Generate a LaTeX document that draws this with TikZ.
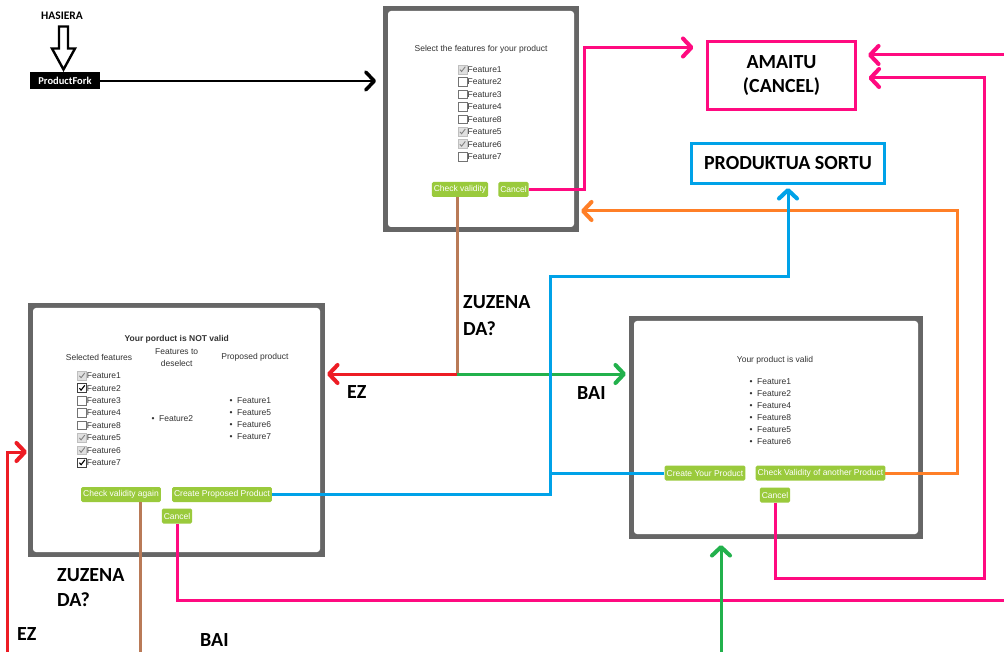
\documentclass[tikz,border=0pt]{standalone}
\usepackage{fontspec}
\setmainfont{Liberation Sans}
\newfontfamily\lblfont{Carlito}
\usetikzlibrary{arrows.meta,calc}

\definecolor{pinkl}{HTML}{FF0A80}
\definecolor{bluel}{HTML}{00A2E8}
\definecolor{orangel}{HTML}{FF7F27}
\definecolor{greenl}{HTML}{22B14C}
\definecolor{redl}{HTML}{ED1C24}
\definecolor{brownl}{HTML}{B97A57}
\definecolor{framecol}{HTML}{666666}
\definecolor{btncol}{HTML}{9ACA3C}
\definecolor{txt}{HTML}{333333}

\begin{document}
\begin{tikzpicture}[x=1pt,y=-1pt,
  tip/.style={-{Straight Barb[length=8.5pt,width=18pt,line width=0pt 1.35,round]}},
  wire/.style={line width=3pt},
  pinkw/.style={wire, draw=pinkl},
  bluew/.style={wire, draw=bluel},
  orangew/.style={wire, draw=orangel},
  greenw/.style={wire, draw=greenl},
  redw/.style={wire, draw=redl},
  brownw/.style={wire, draw=brownl},
  dlg/.style={fill=framecol, inner sep=0pt, outer sep=0pt},
  dtext/.style={inner sep=0pt, text=txt, font=\fontsize{8.5}{10}\selectfont},
  feat/.style={dtext, anchor=west},
  btn/.style={fill=btncol, rounded corners=1.5pt, text=white,
    font=\fontsize{8.5}{10}\selectfont, inner xsep=2pt, inner ysep=0pt,
    minimum height=15pt},
  lbl/.style={inner sep=0pt, anchor=north west, align=left,
    font=\lblfont\bfseries\fontsize{20}{26}\selectfont},
  bigbox/.style={line width=3pt, outer sep=0pt, align=center,
    font=\lblfont\bfseries\fontsize{20}{24}\selectfont},
  cbempty/.pic={\draw[draw=black!55, fill=white, line width=0.7pt] (-4.4,-4.4) rectangle (4.4,4.4);},
  cbgray/.pic={\draw[draw=black!25, fill=black!12, line width=0.7pt] (-4.4,-4.4) rectangle (4.4,4.4);
    \draw[black!50, line width=0.9pt] (-2.6,0.1) -- (-0.9,2) -- (2.8,-2.8);},
  cbblack/.pic={\draw[draw=black!75, fill=white, line width=0.7pt] (-4.4,-4.4) rectangle (4.4,4.4);
    \draw[black, line width=1.1pt] (-2.6,0.1) -- (-0.9,2) -- (2.8,-2.8);}
]
\useasboundingbox (0,0) rectangle (1004,652);

% ---------- start ----------
\node[inner sep=0pt, font=\lblfont\bfseries\fontsize{11.5}{12}\selectfont] (hasiera) at (62,16) {HASIERA};
\node[fill=black, text=white, inner sep=0pt, outer sep=0pt, minimum width=70pt, minimum height=17pt,
      font=\lblfont\bfseries\fontsize{10.5}{12}\selectfont] (pfork) at (65,81) {ProductFork};
\draw[line width=2.4pt, line join=miter, fill=white]
  ($(pfork.north)+(-1.5,-3)$) -- ++(-11.5,-21) -- ++(7,0) -- ++(0,-22) -- ++(9,0) -- ++(0,22) -- ++(7,0) -- cycle;

% ---------- dialog frames ----------
\node[dlg, minimum width=196pt, minimum height=226pt] (dlgTop) at (481,119) {};
\node[dlg, minimum width=297pt, minimum height=254pt] (dlgLeft) at (176.5,430) {};
\node[dlg, minimum width=294pt, minimum height=223pt] (dlgRight) at (776,427.5) {};
\foreach \d in {dlgTop,dlgLeft,dlgRight}
  \fill[white, rounded corners=3pt] ($(\d.north west)+(5,5)$) rectangle ($(\d.south east)+(-5,-5)$);

% ---------- feature selection dialog ----------
\node[dtext] (topHead) at (481,49) {Select the features for your product};
\foreach \st/\lab [count=\i from 0] in {gray/Feature1,empty/Feature2,empty/Feature3,empty/Feature4,
    empty/Feature8,gray/Feature5,gray/Feature6,empty/Feature7} {
  \pic at (462.5,{69.5+12.45*\i}) {cb\st};
  \node[feat] (topf\i) at (467.5,{69.5+12.45*\i}) {\lab};
}
\node[btn] (btnCheck) at (460,189.5) {Check validity};
\node[btn] (btnCancelTop) at (513.5,189.5) {Cancel};

% ---------- invalid product dialog ----------
\node[dtext, font=\bfseries\fontsize{8.5}{10}\selectfont] (leftHead) at (176.7,339) {Your porduct is NOT valid};
\node[dtext] (colSel) at (99,357.7) {Selected features};
\node[dtext, align=center, font=\fontsize{8.5}{11.3}\selectfont] (colDes) at (176.7,357.5) {Features to\\deselect};
\node[dtext] (colProp) at (255,357.7) {Proposed product};
\foreach \st/\lab [count=\i from 0] in {gray/Feature1,black/Feature2,empty/Feature3,empty/Feature4,
    empty/Feature8,gray/Feature5,gray/Feature6,black/Feature7} {
  \pic at (82,{375.7+12.43*\i}) {cb\st};
  \node[feat] (leftf\i) at (86.7,{375.7+12.43*\i}) {\lab};
}
\node[feat] (desf) at (151.5,419) {•\hspace{4.5pt}Feature2};
\foreach \lab [count=\i from 0] in {Feature1,Feature5,Feature6,Feature7}
  \node[feat] (propf\i) at (229.5,{401+11.9*\i}) {•\hspace{4.5pt}\lab};
\node[btn] (btnAgain) at (121,494.5) {Check validity again};
\node[btn] (btnProposed) at (222,494.5) {Create Proposed Product};
\node[btn] (btnCancelLeft) at (177,516) {Cancel};

% ---------- valid product dialog ----------
\node[dtext] (rightHead) at (775,360.7) {Your product is valid};
\foreach \lab [count=\i from 0] in {Feature1,Feature2,Feature4,Feature8,Feature5,Feature6}
  \node[feat] (validf\i) at (749.5,{381.3+12*\i}) {•\hspace{4.5pt}\lab};
\node[btn] (btnCreate) at (705,473) {Create Your Product};
\node[btn] (btnAnother) at (820.5,473) {Check Validity of another Product};
\node[btn] (btnCancelRight) at (775,495) {Cancel};

% ---------- outcome boxes ----------
\node[bigbox, draw=pinkl, minimum width=148pt, minimum height=68pt] (amaitu) at (781.5,75.5) {AMAITU\\(CANCEL)};
\node[bigbox, draw=bluel, minimum width=193pt, minimum height=40pt] (sortu) at (788,163.5) {PRODUKTUA SORTU};

% ---------- decision labels ----------
\node[lbl, font=\lblfont\bfseries\fontsize{20}{27}\selectfont] (ask1) at (463,295) {ZUZENA\\DA?};
\node[lbl] (no1) at (347,385) {EZ};
\node[lbl] (yes1) at (577,386) {BAI};
\node[lbl, font=\lblfont\bfseries\fontsize{20}{25}\selectfont] (ask2) at (57,568) {ZUZENA\\DA?};
\node[lbl] (no2) at (17,627) {EZ};
\node[lbl] (yes2) at (200,633) {BAI};

% ---------- helper coordinates ----------
\coordinate (q) at (457,374);
\coordinate (offR1) at (1004,55);
\coordinate (offR2) at (1004,600);
\coordinate (rpink) at (984,578);
\coordinate (obend) at (957,211);
\coordinate (bx) at (550,277);
\coordinate (offB1) at (140,652);
\coordinate (offB2) at (7,652);
\coordinate (offB3) at (721,652);

% ---------- cancel paths ----------
\draw[pinkw, tip] (btnCancelTop.east) -- ++(56,0) |- ($(amaitu.west)+(-14,-28)$);
\draw[pinkw, tip] (offR1) -- ($(amaitu.east |- offR1)+(12.5,0)$);
\draw[pinkw, tip] (btnCancelRight.south) |- (rpink) |- ($(amaitu.east)+(13,2.5)$);
\draw[pinkw] (btnCancelLeft.south) |- (offR2);

% ---------- validity checks ----------
\draw[orangew, tip] (btnAnother.east) -| (obend) -- ($(dlgTop.east |- obend)+(2,0)$);
\draw[brownw] (btnCheck.south -| q) -- (q);
\draw[redw, tip] (q) -- ($(dlgLeft.east |- q)+(2,0)$);
\draw[greenw, tip] (q) -- ($(dlgRight.west |- q)+(-3,0)$);
\draw[brownw] (btnAgain.south -| offB1) -- (offB1);
\draw[redw, tip] (offB2) |- ($(dlgLeft.west)+(-1,22)$);
\draw[greenw, tip] (offB3) -- ($(dlgRight.south -| offB3)+(0,6)$);

% ---------- create product ----------
\draw[bluew] (btnCreate.west) -- (bx |- btnCreate.west);
\draw[bluew, tip] (btnProposed.east) -| (bx) -| ($(sortu.south)+(0,4.5)$);

% ---------- entry ----------
\draw[line width=2.6pt, tip] (pfork.east) -- ($(dlgTop.west |- pfork.east)+(-7,0)$);
\end{tikzpicture}
\end{document}
